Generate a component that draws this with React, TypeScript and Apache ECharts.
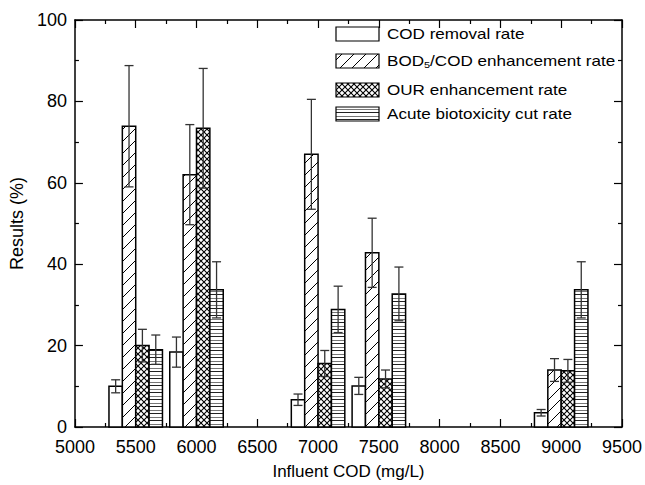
import React, { useEffect, useRef } from "react";
import * as echarts from "echarts";

// ---- data ----
const groupCOD = [5500, 6000, 7000, 7500, 9000];
const codRemoval = [10, 18.4, 6.7, 10.1, 3.5];
const codRemovalErr = [1.6, 3.7, 1.4, 2.1, 0.8];
const bodEnhancement = [73.9, 62, 67, 42.8, 14];
const bodEnhancementErr = [14.9, 12.3, 13.5, 8.5, 2.8];
const ourEnhancement = [20, 73.4, 15.6, 11.8, 13.8];
const ourEnhancementErr = [4, 14.7, 3.2, 2.2, 2.8];
const acuteCut = [19, 33.7, 28.9, 32.7, 33.7];
const acuteCutErr = [3.6, 6.9, 5.7, 6.6, 6.9];

const seriesNames = [
  "COD removal rate",
  "BOD5/COD enhancement rate",
  "OUR enhancement rate",
  "Acute biotoxicity cut rate",
];
const xTicks = { min: 5000, max: 9500, interval: 500 };
const yTicks = { min: 0, max: 100, interval: 20 };

const FONT = "'Liberation Sans', Arial, sans-serif";
const BAR_UNITS = 110; // width of one bar in x-axis units

function makeCanvas(w: number, h: number, draw: (c: CanvasRenderingContext2D) => void) {
  const cv = document.createElement("canvas");
  cv.width = w;
  cv.height = h;
  const ctx = cv.getContext("2d")!;
  ctx.fillStyle = "#fff";
  ctx.fillRect(0, 0, w, h);
  draw(ctx);
  return cv;
}

function makePatterns() {
  const blank = "#fff";
  const diag = makeCanvas(12, 12, (c) => {
    c.strokeStyle = "#000";
    c.lineWidth = 1;
    c.beginPath();
    c.moveTo(-2, 14);
    c.lineTo(14, -2);
    c.stroke();
  });
  const cross = makeCanvas(6, 6, (c) => {
    c.strokeStyle = "#000";
    c.lineWidth = 1.1;
    c.beginPath();
    c.moveTo(-1, -1);
    c.lineTo(7, 7);
    c.moveTo(7, -1);
    c.lineTo(-1, 7);
    c.stroke();
  });
  const horiz = makeCanvas(4, 7, (c) => {
    c.fillStyle = "#222";
    c.fillRect(0, 0, 4, 1);
    c.fillStyle = "#777";
    c.fillRect(0, 4, 4, 1);
  });
  const pat = (cv: HTMLCanvasElement) => ({ image: cv, repeat: "repeat" as const });
  return [blank, pat(diag), pat(cross), pat(horiz)];
}

export default function App() {
  const ref = useRef<HTMLDivElement>(null);

  useEffect(() => {
    if (!ref.current) return;
    const chart = echarts.init(ref.current, undefined, { renderer: "svg" });
    const fills = makePatterns();
    const values = [codRemoval, bodEnhancement, ourEnhancement, acuteCut];
    const errors = [codRemovalErr, bodEnhancementErr, ourEnhancementErr, acuteCutErr];

    const axisLine = { show: true, onZero: false, lineStyle: { color: "#000", width: 1.5 } };
    const tick = { show: true, inside: true, length: 8, lineStyle: { color: "#000", width: 1.2 } };
    const minor = { show: true, splitNumber: 2, length: 4, lineStyle: { color: "#000", width: 1.2 } };
    const label = { color: "#000", fontSize: 18, fontFamily: FONT, formatter: (v: number) => String(v) };

    const series = values.map((vals, si) => ({
      type: "custom",
      name: seriesNames[si],
      xAxisIndex: 0,
      yAxisIndex: 0,
      encode: { x: 0, y: 1 },
      data: groupCOD.map((g, i) => [g, vals[i], errors[si][i]]),
      renderItem: (params: any, api: any) => {
        const x = api.value(0);
        const v = api.value(1);
        const e = api.value(2);
        const base = api.coord([x, 0]);
        const top = api.coord([x, v]);
        const w = api.size([BAR_UNITS, 0])[0];
        const left = base[0] + (params.seriesIndex - 2) * w;
        const cx = left + w / 2;
        const hi = api.coord([x, v + e])[1];
        const lo = api.coord([x, v - e])[1];
        const capHalf = 4.5;
        const errStyle = { stroke: "#333", lineWidth: 1.3 };
        return {
          type: "group",
          children: [
            {
              type: "rect",
              shape: { x: left, y: top[1], width: w, height: base[1] - top[1] },
              style: { fill: fills[params.seriesIndex], stroke: "#000", lineWidth: 1.5 },
            },
            { type: "line", shape: { x1: cx, y1: hi, x2: cx, y2: lo }, style: errStyle },
            { type: "line", shape: { x1: cx - capHalf, y1: hi, x2: cx + capHalf, y2: hi }, style: errStyle },
            { type: "line", shape: { x1: cx - capHalf, y1: lo, x2: cx + capHalf, y2: lo }, style: errStyle },
          ],
        };
      },
    }));

    // legend drawn with graphic elements
    const legendRows = [27, 54, 83, 107];
    const legendGraphics: any[] = [];
    legendRows.forEach((ty, i) => {
      legendGraphics.push({
        type: "rect",
        shape: { x: 336, y: ty, width: 43, height: 14 },
        style: { fill: fills[i], stroke: "#000", lineWidth: 1.2 },
      });
      legendGraphics.push({
        type: "text",
        x: 387,
        y: ty + 7,
        scaleX: 1.22,
        style: {
          text: i === 1 ? "BOD{s|5}/COD enhancement rate" : seriesNames[i],
          fontSize: 14,
          fontFamily: FONT,
          fill: "#000",
          textAlign: "left",
          textVerticalAlign: "middle",
          rich: {
            s: { fontSize: 9, fontFamily: FONT, fill: "#000", padding: [7, 0, 0, 0] },
          },
        },
      });
    });

    chart.setOption({
      animation: false,
      backgroundColor: "#fff",
      grid: { left: 70, right: 21, top: 20, bottom: 54, containLabel: false },
      xAxis: [
        {
          type: "value",
          position: "bottom",
          ...xTicks,
          name: "Influent COD (mg/L)",
          nameLocation: "middle",
          nameGap: 36,
          nameTextStyle: { color: "#000", fontSize: 17, fontFamily: FONT },
          axisLine,
          axisTick: tick,
          minorTick: minor,
          splitLine: { show: false },
          axisLabel: { ...label, margin: 11 },
        },
        {
          type: "value",
          position: "top",
          ...xTicks,
          axisLine,
          axisTick: tick,
          minorTick: minor,
          splitLine: { show: false },
          axisLabel: { show: false },
        },
      ],
      yAxis: [
        {
          type: "value",
          position: "left",
          ...yTicks,
          name: "Results (%)",
          nameLocation: "middle",
          nameGap: 41,
          nameTextStyle: { color: "#000", fontSize: 18, fontFamily: FONT },
          axisLine,
          axisTick: tick,
          minorTick: minor,
          splitLine: { show: false },
          axisLabel: { ...label, margin: 8 },
        },
        {
          type: "value",
          position: "right",
          ...yTicks,
          axisLine,
          axisTick: tick,
          minorTick: minor,
          splitLine: { show: false },
          axisLabel: { show: false },
        },
      ],
      graphic: legendGraphics,
      series,
    });

    return () => chart.dispose();
  }, []);

  return (
    <div
      ref={ref}
      style={{ position: "absolute", left: 0, top: 0, width: 645, height: 485 }}
    />
  );
}
